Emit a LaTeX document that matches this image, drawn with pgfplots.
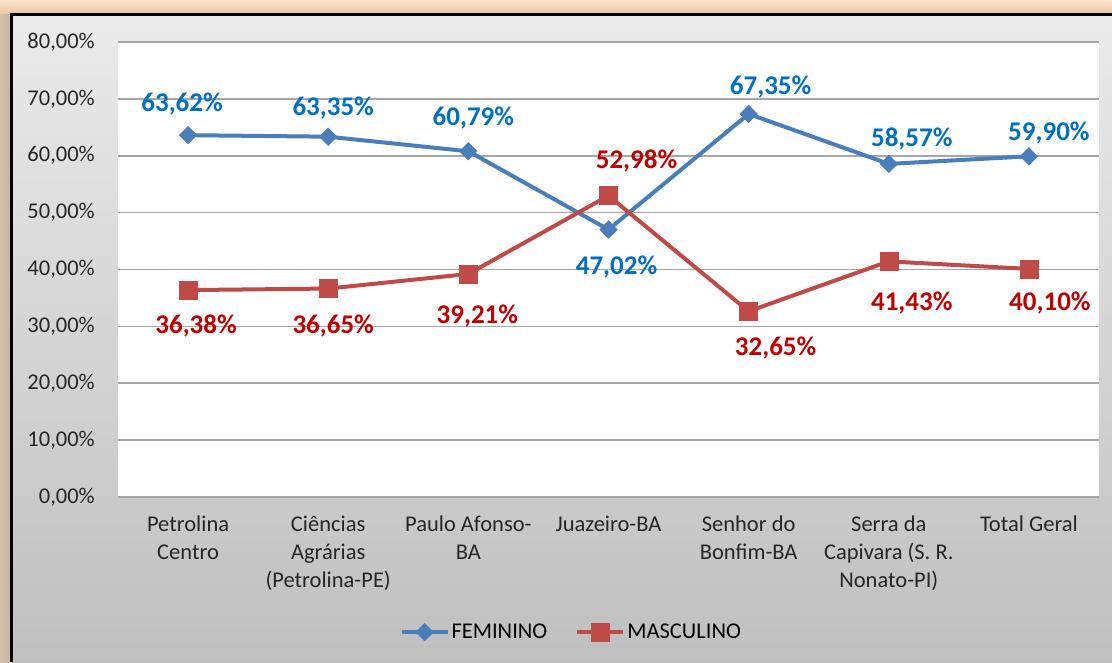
\documentclass[border=0pt]{standalone}
\usepackage{fontspec}
\setmainfont{Carlito}
\usepackage{pgfplots}
\usepackage{pgfplotstable}
\pgfplotsset{compat=1.18}
\definecolor{femLine}{HTML}{4A7EBB}
\definecolor{mascLine}{HTML}{BE4B48}
\definecolor{femLab}{HTML}{0070C0}
\definecolor{mascLab}{HTML}{C00000}
\definecolor{gridGray}{HTML}{A6A6A6}
\definecolor{peach}{HTML}{FCE3CC}
\definecolor{tan}{HTML}{C9B29C}

% x, value, label shift (dx, dy) for each series
\pgfplotstableread{
x F Fdx Fdy M Mdx Mdy
0 63.62 -6 31 36.38 8 -36
1 63.35 5 29 36.65 5 -37
2 60.79 5 33 39.21 9 -42
3 47.02 8 -37 52.98 28 35
4 67.35 22 27 32.65 27 -37
5 58.57 23 25 41.43 23 -42
6 59.90 20 23 40.10 21 -34
}\datatable

\begin{document}
\begin{tikzpicture}
\useasboundingbox (0pt,0pt) rectangle (1112pt,662pt);
% outer frame background
\fill[peach] (0pt,0pt) rectangle (1112pt,662pt);
\shade[left color=tan!80, right color=tan] (0pt,0pt) rectangle (11pt,648pt);
\shade[top color=peach, bottom color=peach!70!brown] (0pt,648pt) rectangle (1112pt,662pt);
\shade[top color=black!8, bottom color=black!25] (11pt,0pt) rectangle (1112pt,647pt);
\draw[black, line width=3pt] (11.5pt,0pt) -- (11.5pt,647.5pt) -- (1112pt,647.5pt);

\begin{axis}[
    at={(118pt,165pt)}, anchor=south west,
    scale only axis,
    width=981pt, height=455pt,
    xmin=-0.5, xmax=6.5,
    ymin=0, ymax=80,
    xtick=data,
    xticklabels={
        Petrolina\\Centro,
        Ciências\\Agrárias\\(Petrolina-PE),
        Paulo Afonso-\\BA,
        Juazeiro-BA,
        Senhor do\\Bonfim-BA,
        Serra da\\Capivara (S. R.\\Nonato-PI),
        Total Geral},
    ytick={0,10,...,80},
    yticklabel={\pgfmathprintnumber[assume math mode=true,fixed,fixed zerofill,precision=2,use comma]{\tick}\%},
    xticklabel style={align=center, anchor=north, inner sep=0pt, yshift=-19pt,
        font=\fontsize{22.5}{28}\selectfont, text=black!85},
    yticklabel style={anchor=east, inner sep=0pt, xshift=-23pt,
        font=\fontsize{22.5}{28}\selectfont, text=black!85},
    axis line style={draw=none},
    tick style={draw=none},
    ymajorgrids,
    grid style={gridGray, line width=1.6pt},
    axis background/.style={fill=white},
    clip=false,
    legend columns=2,
    legend style={at={(axis description cs:0.462,-0.297)}, anchor=center,
        draw=none, fill=none, font=\fontsize{22.5}{28}\selectfont,
        /tikz/every even column/.append style={column sep=26pt}},
    legend cell align=left,
    legend image code/.code={
        \draw[mark repeat=2, mark phase=2] plot coordinates {(0pt,0pt) (23pt,0pt) (46pt,0pt)};},
    nodes near coords={\pgfmathprintnumber[assume math mode=true,fixed,fixed zerofill,precision=2,use comma]{\pgfplotspointmeta}\%},
    point meta=y,
]
\addplot[femLine, line width=4pt, mark=square*, mark size=6.2pt,
    mark options={fill=femLine, line width=0.5pt, rotate=45},
    visualization depends on={\thisrow{Fdx} \as \dx},
    visualization depends on={\thisrow{Fdy} \as \dy},
    every node near coord/.style={anchor=center, xshift=\dx, yshift=\dy,
        text=femLab, font=\fontsize{27}{32}\selectfont\bfseries}]
    table[x=x, y=F] {\datatable};
\addlegendentry{FEMININO}
\addplot[mascLine, line width=4pt, mark=square*, mark size=9pt,
    mark options={fill=mascLine, line width=0.5pt},
    visualization depends on={\thisrow{Mdx} \as \dx},
    visualization depends on={\thisrow{Mdy} \as \dy},
    every node near coord/.style={anchor=center, xshift=\dx, yshift=\dy,
        text=mascLab, font=\fontsize{27}{32}\selectfont\bfseries}]
    table[x=x, y=M] {\datatable};
\addlegendentry{MASCULINO}
\end{axis}
\end{tikzpicture}
\end{document}
